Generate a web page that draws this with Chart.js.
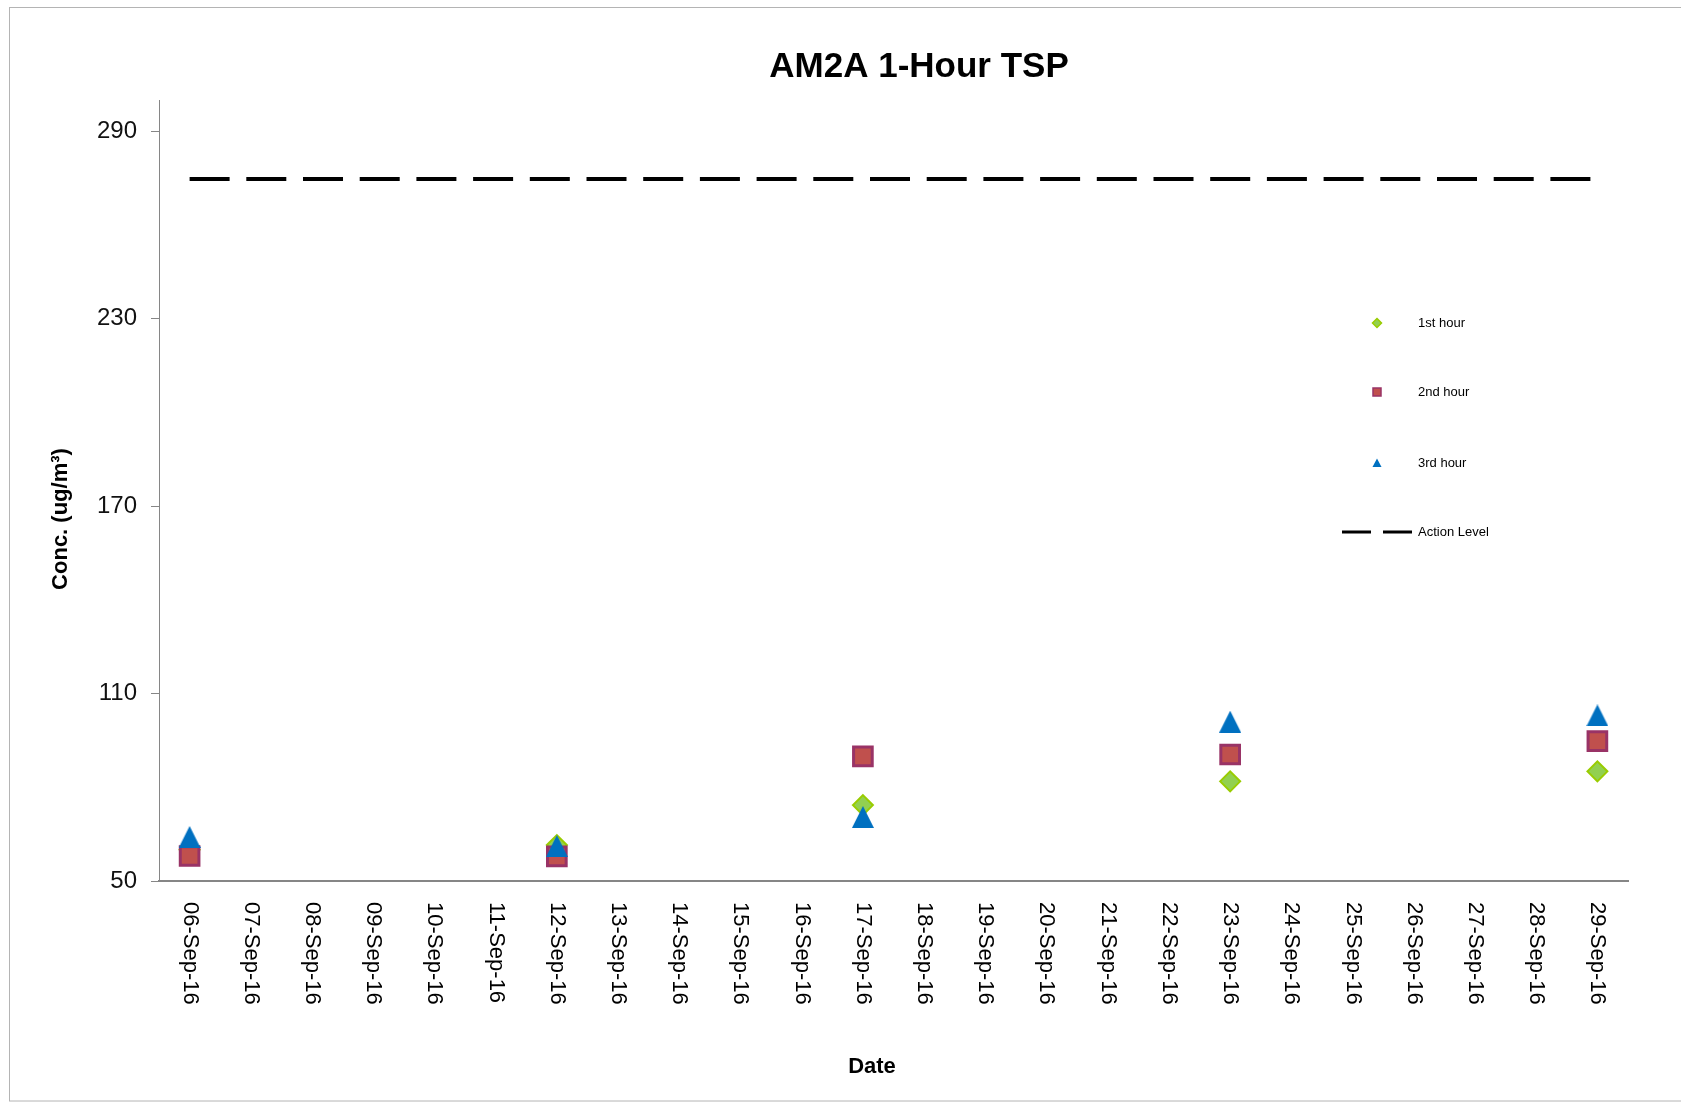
<!DOCTYPE html>
<html>
<head>
<meta charset="utf-8">
<script src="https://cdn.jsdelivr.net/npm/chart.js@4/dist/chart.umd.min.js"></script>
<style>
  html, body { margin: 0; padding: 0; background: #fff; }
  #wrap { width: 1681px; height: 1103px; position: relative; }
</style>
</head>
<body>
<div id="wrap"><canvas id="c" width="1681" height="1103"></canvas></div>
<script>
// ---- Data ----
const chartTitle = 'AM2A 1-Hour TSP';
const xTitle = 'Date';
const yTitle = 'Conc. (ug/m\u00B3)';
const categories = ['06-Sep-16','07-Sep-16','08-Sep-16','09-Sep-16','10-Sep-16','11-Sep-16',
  '12-Sep-16','13-Sep-16','14-Sep-16','15-Sep-16','16-Sep-16','17-Sep-16',
  '18-Sep-16','19-Sep-16','20-Sep-16','21-Sep-16','22-Sep-16','23-Sep-16',
  '24-Sep-16','25-Sep-16','26-Sep-16','27-Sep-16','28-Sep-16','29-Sep-16'];
const hour1 = [60, null, null, null, null, null, 61.5, null, null, null, null, 74.3,
  null, null, null, null, null, 81.9, null, null, null, null, null, 85.1];
const hour2 = [58, null, null, null, null, null, 57.9, null, null, null, null, 89.9,
  null, null, null, null, null, 90.5, null, null, null, null, null, 94.8];
const hour3 = [64.1, null, null, null, null, null, 61.2, null, null, null, null, 70.5,
  null, null, null, null, null, 101, null, null, null, null, null, 103];
const actionLevel = [274.7, 274.7, 274.7, 274.7, 274.7, 274.7, 274.7, 274.7, 274.7, 274.7, 274.7, 274.7,
  274.7, 274.7, 274.7, 274.7, 274.7, 274.7, 274.7, 274.7, 274.7, 274.7, 274.7, 274.7];
const yTicks = [50, 110, 170, 230, 290];
const yMin = 50, yMax = 300;

// ---- Styles ----
const FONT = "'Liberation Sans', Arial, sans-serif";
const c1 = { fill: '#92D050', stroke: '#99CC00' };
const c2 = { fill: '#C0504D', stroke: '#993366' };
const c3 = { fill: '#0070C0', stroke: '#0070C0' };

function triangleImage(size, color) {
  const cv = document.createElement('canvas');
  cv.width = size; cv.height = size;
  const g = cv.getContext('2d');
  g.fillStyle = color;
  g.beginPath();
  g.moveTo(size / 2, 0);
  g.lineTo(size, size);
  g.lineTo(0, size);
  g.closePath();
  g.fill();
  return cv;
}
const triBig = triangleImage(22, c3.fill);

const frame = {
  id: 'frame',
  beforeDraw(chart) {
    const ctx = chart.ctx;
    ctx.save();
    ctx.fillStyle = '#fff';
    ctx.fillRect(0, 0, chart.width, chart.height);
    ctx.strokeStyle = '#b4b4b4';
    ctx.lineWidth = 1;
    ctx.strokeRect(9.5, 7.5, 1700, 1093.5);
    ctx.restore();
  }
};

const decorations = {
  id: 'decorations',
  afterDraw(chart) {
    const ctx = chart.ctx;
    const xs = chart.scales.x;
    ctx.save();
    // x tick labels, rotated clockwise (read top to bottom)
    ctx.fillStyle = '#000';
    ctx.font = '22px ' + FONT;
    ctx.textAlign = 'left';
    ctx.textBaseline = 'middle';
    categories.forEach((lab, i) => {
      const x = xs.getPixelForTick(i);
      ctx.save();
      ctx.translate(x, xs.top + 21);
      ctx.rotate(Math.PI / 2);
      ctx.fillText(lab, 0, 0);
      ctx.restore();
    });
    // chart title
    ctx.font = 'bold 35px ' + FONT;
    ctx.textAlign = 'center';
    ctx.fillText(chartTitle, 919, 67);
    // x title
    ctx.font = 'bold 22px ' + FONT;
    ctx.fillText(xTitle, 872, 1067);
    // y title
    ctx.save();
    ctx.translate(61, 519);
    ctx.rotate(-Math.PI / 2);
    ctx.font = 'bold 22px ' + FONT;
    ctx.fillText(yTitle, 0, 0);
    ctx.restore();

    // legend
    const ds = chart.data.datasets;
    const mx = 1377, tx = 1418;
    const rows = [323, 392, 463, 532];
    ctx.font = '13px ' + FONT;
    ctx.textAlign = 'left';
    ctx.textBaseline = 'middle';
    // 1st hour diamond
    ctx.fillStyle = c1.fill; ctx.strokeStyle = c1.stroke; ctx.lineWidth = 1.5;
    ctx.beginPath();
    ctx.moveTo(mx, rows[0] - 4.5); ctx.lineTo(mx + 4.5, rows[0]);
    ctx.lineTo(mx, rows[0] + 4.5); ctx.lineTo(mx - 4.5, rows[0]); ctx.closePath();
    ctx.fill(); ctx.stroke();
    // 2nd hour square
    ctx.fillStyle = c2.fill; ctx.strokeStyle = c2.stroke; ctx.lineWidth = 1.5;
    ctx.fillRect(mx - 4, rows[1] - 4, 8, 8);
    ctx.strokeRect(mx - 4, rows[1] - 4, 8, 8);
    // 3rd hour triangle
    ctx.fillStyle = c3.fill;
    ctx.beginPath();
    ctx.moveTo(mx, rows[2] - 4.5); ctx.lineTo(mx + 4.5, rows[2] + 4); ctx.lineTo(mx - 4.5, rows[2] + 4);
    ctx.closePath(); ctx.fill();
    // action level line sample
    ctx.strokeStyle = '#000'; ctx.lineWidth = 3;
    ctx.beginPath();
    ctx.moveTo(1342, rows[3]); ctx.lineTo(1371, rows[3]);
    ctx.moveTo(1383, rows[3]); ctx.lineTo(1412, rows[3]);
    ctx.stroke();
    ctx.fillStyle = '#000';
    ds.forEach((d, i) => ctx.fillText(d.label, tx, rows[i]));
    ctx.restore();
  }
};

new Chart(document.getElementById('c'), {
  type: 'line',
  data: {
    labels: categories,
    datasets: [
      { label: '1st hour', data: hour1, showLine: false, order: 3,
        pointStyle: 'rectRot', pointRadius: 10, pointHoverRadius: 10,
        pointBackgroundColor: c1.fill, pointBorderColor: c1.stroke, pointBorderWidth: 2,
        backgroundColor: c1.fill, borderColor: c1.stroke },
      { label: '2nd hour', data: hour2, showLine: false, order: 2,
        pointStyle: 'rect', pointRadius: 13.2, pointHoverRadius: 13.2,
        pointBackgroundColor: c2.fill, pointBorderColor: c2.stroke, pointBorderWidth: 3,
        backgroundColor: c2.fill, borderColor: c2.stroke },
      { label: '3rd hour', data: hour3, showLine: false, order: 1,
        pointStyle: triBig, pointRadius: 11, pointHoverRadius: 11,
        backgroundColor: c3.fill, borderColor: c3.stroke },
      { label: 'Action Level', data: actionLevel, order: 4,
        borderColor: '#000', borderWidth: 4, borderDash: [40, 16.7],
        pointRadius: 0, pointHoverRadius: 0, fill: false, tension: 0 }
    ]
  },
  options: {
    responsive: false,
    animation: false,
    events: [],
    layout: { padding: { left: 0, right: 53, top: 100, bottom: 0 } },
    plugins: {
      legend: { display: false },
      title: { display: false },
      tooltip: { enabled: false }
    },
    scales: {
      x: {
        type: 'category',
        offset: true,
        grid: { display: false },
        border: { display: true, color: '#868686', width: 2 },
        ticks: { color: 'rgba(0,0,0,0)', minRotation: 90, maxRotation: 90, autoSkip: false,
          font: { family: FONT, size: 22 } },
        afterFit(scale) { scale.height = 222; }
      },
      y: {
        min: yMin, max: yMax,
        grid: { display: true, drawOnChartArea: false, drawTicks: true, tickLength: 8,
          color: '#868686', lineWidth: 1 },
        border: { display: true, color: '#868686', width: 1 },
        ticks: { color: '#111', padding: 14, font: { family: FONT, size: 24 } },
        afterBuildTicks(scale) { scale.ticks = yTicks.map(v => ({ value: v })); },
        afterFit(scale) { scale.width = 159; }
      }
    }
  },
  plugins: [frame, decorations]
});
</script>
</body>
</html>
